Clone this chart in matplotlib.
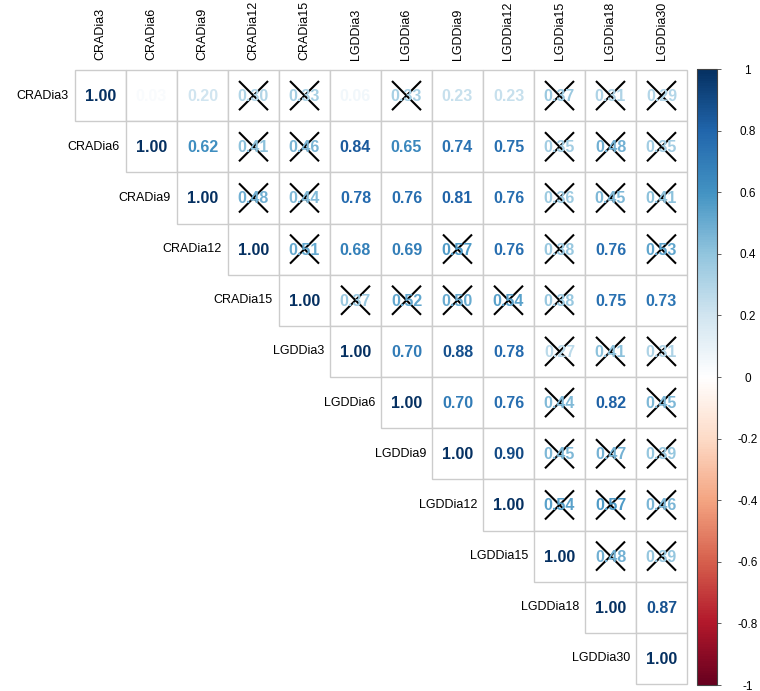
import numpy as np
import matplotlib
matplotlib.use("Agg")
import matplotlib.pyplot as plt
from matplotlib.colors import LinearSegmentedColormap, Normalize
from matplotlib.patches import Rectangle
from matplotlib.cm import ScalarMappable

plt.rcParams["font.family"] = ["Liberation Sans", "DejaVu Sans"]

labels = ["CRADia3", "CRADia6", "CRADia9", "CRADia12", "CRADia15", "LGDDia3",
          "LGDDia6", "LGDDia9", "LGDDia12", "LGDDia15", "LGDDia18", "LGDDia30"]

# upper triangle, row by row, starting at the diagonal
r_cra3 = [1.00, 0.03, 0.20, 0.30, 0.33, 0.06, 0.33, 0.23, 0.23, 0.37, 0.31, 0.29]
r_cra6 = [1.00, 0.62, 0.41, 0.46, 0.84, 0.65, 0.74, 0.75, 0.35, 0.48, 0.35]
r_cra9 = [1.00, 0.48, 0.44, 0.78, 0.76, 0.81, 0.76, 0.36, 0.45, 0.41]
r_cra12 = [1.00, 0.51, 0.68, 0.69, 0.57, 0.76, 0.38, 0.76, 0.53]
r_cra15 = [1.00, 0.37, 0.52, 0.50, 0.54, 0.38, 0.75, 0.73]
r_lgd3 = [1.00, 0.70, 0.88, 0.78, 0.27, 0.41, 0.31]
r_lgd6 = [1.00, 0.70, 0.76, 0.44, 0.82, 0.45]
r_lgd9 = [1.00, 0.90, 0.45, 0.47, 0.39]
r_lgd12 = [1.00, 0.54, 0.57, 0.46]
r_lgd15 = [1.00, 0.48, 0.39]
r_lgd18 = [1.00, 0.87]
r_lgd30 = [1.00]
rows = [r_cra3, r_cra6, r_cra9, r_cra12, r_cra15, r_lgd3,
        r_lgd6, r_lgd9, r_lgd12, r_lgd15, r_lgd18, r_lgd30]

# (row, col) pairs that fail the significance test -> crossed out
insig = [(0, 3), (0, 4), (0, 6), (0, 9), (0, 10), (0, 11),
         (1, 3), (1, 4), (1, 9), (1, 10), (1, 11),
         (2, 3), (2, 4), (2, 9), (2, 10), (2, 11),
         (3, 4), (3, 7), (3, 9), (3, 11),
         (4, 5), (4, 6), (4, 7), (4, 8), (4, 9),
         (5, 9), (5, 10), (5, 11),
         (6, 9), (6, 11),
         (7, 9), (7, 10), (7, 11),
         (8, 9), (8, 10), (8, 11),
         (9, 10), (9, 11)]

cbar_ticks = [1, 0.8, 0.6, 0.4, 0.2, 0, -0.2, -0.4, -0.6, -0.8, -1]

cmap = LinearSegmentedColormap.from_list(
    "RdBu2", ["#67001F", "#B2182B", "#D6604D", "#F4A582", "#FDDBC7", "#FFFFFF",
              "#D1E5F0", "#92C5DE", "#4393C3", "#2166AC", "#053061"])
norm = Normalize(-1, 1)

n = len(labels)
W, H = 760, 691
fig = plt.figure(figsize=(W / 100, H / 100), dpi=100)
ax = fig.add_axes([75 / W, 7 / H, 612 / W, 614 / H])
ax.set_xlim(0, n)
ax.set_ylim(n, 0)
ax.axis("off")

for i, row in enumerate(rows):
    for k, v in enumerate(row):
        j = i + k
        ax.add_patch(Rectangle((j, i), 1, 1, facecolor="white",
                               edgecolor="#CCCCCC", lw=1.0, clip_on=False))
        ax.text(j + 0.5, i + 0.52, f"{v:.2f}", ha="center", va="center",
                fontsize=11.5, fontweight="bold", color=cmap(norm(v)))
    ax.text(i - 0.12, i + 0.5, labels[i], ha="right", va="center",
            fontsize=9, color="black")
    ax.text(i + 0.5, -0.2, labels[i], ha="center", va="bottom",
            rotation=90, fontsize=9, color="black")

d = 0.27
for i, j in insig:
    cx, cy = j + 0.5, i + 0.5
    ax.plot([cx - d, cx + d], [cy - d, cy + d], color="black", lw=1.5)
    ax.plot([cx - d, cx + d], [cy + d, cy - d], color="black", lw=1.5)

cax = fig.add_axes([697 / W, 6 / H, 20 / W, 616 / H])
cb = fig.colorbar(ScalarMappable(norm=norm, cmap=cmap), cax=cax)
cb.outline.set_edgecolor("#444444")
cb.outline.set_linewidth(0.8)
cb.set_ticks(cbar_ticks)
cb.set_ticklabels([f"{t:g}" for t in cbar_ticks])
cax.tick_params(length=3, width=0.6, color="#444444", labelsize=8.5, pad=19)
for lab in cax.get_yticklabels():
    lab.set_ha("center")

fig.savefig("out.png", dpi=100)
